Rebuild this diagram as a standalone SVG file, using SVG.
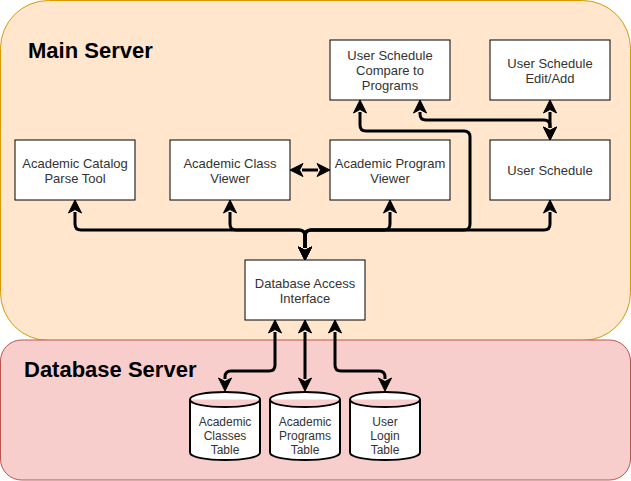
<svg xmlns="http://www.w3.org/2000/svg" width="631" height="481" viewBox="0 0 631 481">
<style>
.box{fill:#ffffff;stroke:#000000;stroke-width:1}
.cyl{fill:#ffffff;stroke:#000000;stroke-width:2}
.lbl{font-family:"Liberation Sans",Arial,Helvetica,sans-serif;font-size:13px;fill:#333333;text-anchor:middle}
.clbl{font-family:"Liberation Sans",Arial,Helvetica,sans-serif;font-size:12px;fill:#333333;text-anchor:middle}
.title{font-family:"Liberation Sans",Arial,Helvetica,sans-serif;font-size:22px;font-weight:bold;fill:#000000}
.edge{fill:none;stroke:#000000;stroke-width:3;marker-start:url(#arr);marker-end:url(#arr)}
</style>
<defs>
<marker id="arr" markerUnits="userSpaceOnUse" markerWidth="30" markerHeight="30" refX="0" refY="0" orient="auto-start-reverse" overflow="visible">
<path d="M12,0 L-1,-6.5 L2.5,0 L-1,6.5 Z" fill="#000000" stroke="#000000" stroke-width="1"/>
</marker>
</defs>
<g id="main-server">
<rect x="0.5" y="0.5" width="630" height="340" rx="48" ry="48" fill="#ffe6cc" stroke="#d79b00" stroke-width="1"/>
<text class="title" x="28" y="58">Main Server</text>
</g>
<g id="database-server">
<rect x="0.5" y="340" width="630" height="140" rx="21" ry="21" fill="#f8cecc" stroke="#b85450" stroke-width="1"/>
<text class="title" x="24" y="377">Database Server</text>
</g>
<g id="connectors">
<path class="edge" d="M305,248 L305,236 Q305,230 299,230 L81,230 Q75,230 75,224 L75,212"/>
<path class="edge" d="M305,248 L305,236 Q305,230 299,230 L236,230 Q230,230 230,224 L230,212"/>
<path class="edge" d="M305,248 L305,236 Q305,230 311,230 L384,230 Q390,230 390,224 L390,212"/>
<path class="edge" d="M305,248 L305,236 Q305,230 311,230 L544,230 Q550,230 550,224 L550,212"/>
<path class="edge" d="M305,248 L305,236 Q305,230 311,230 L464,230 Q470,230 470,224 L470,137 Q470,131 464,131 L366,131 Q360,131 360,125 L360,112"/>
<path class="edge" d="M550,112 L550,128"/>
<path class="edge" d="M550,128 L550,126 Q550,120 544,120 L426,120 Q420,120 420,114 L420,112"/>
<path class="edge" d="M302,170 L318,170"/>
<path class="edge" d="M275,332 L275,365 Q275,371 269,371 L231,371 Q225,371 225,377 L225,379"/>
<path class="edge" d="M305,332 L305,379"/>
<path class="edge" d="M335,332 L335,365 Q335,371 341,371 L379,371 Q385,371 385,377 L385,379"/>
</g>
<g id="parse-tool">
<rect class="box" x="15" y="140" width="120" height="60"/>
<text class="lbl" x="75" y="167.5">Academic Catalog</text>
<text class="lbl" x="75" y="182.5">Parse Tool</text>
</g>
<g id="class-viewer">
<rect class="box" x="170" y="140" width="120" height="60"/>
<text class="lbl" x="230" y="167.5">Academic Class</text>
<text class="lbl" x="230" y="182.5">Viewer</text>
</g>
<g id="program-viewer">
<rect class="box" x="330" y="140" width="120" height="60"/>
<text class="lbl" x="390" y="167.5">Academic Program</text>
<text class="lbl" x="390" y="182.5">Viewer</text>
</g>
<g id="user-schedule">
<rect class="box" x="490" y="140" width="120" height="60"/>
<text class="lbl" x="550" y="175">User Schedule</text>
</g>
<g id="compare">
<rect class="box" x="330" y="40" width="120" height="60"/>
<text class="lbl" x="390" y="60">User Schedule</text>
<text class="lbl" x="390" y="75">Compare to</text>
<text class="lbl" x="390" y="90">Programs</text>
</g>
<g id="edit-add">
<rect class="box" x="490" y="40" width="120" height="60"/>
<text class="lbl" x="550" y="67.5">User Schedule</text>
<text class="lbl" x="550" y="82.5">Edit/Add</text>
</g>
<g id="db-access">
<rect class="box" x="245" y="260" width="120" height="60"/>
<text class="lbl" x="305" y="287.5">Database Access</text>
<text class="lbl" x="305" y="302.5">Interface</text>
</g>
<g id="classes-table">
<path class="cyl" d="M190,399.5 C190,389.5 260,389.5 260,399.5 L260,452.5 C260,462.5 190,462.5 190,452.5 Z M190,399.5 C190,409.5 260,409.5 260,399.5"/>
<text class="clbl" x="225" y="426">Academic</text>
<text class="clbl" x="225" y="440">Classes</text>
<text class="clbl" x="225" y="454">Table</text>
</g>
<g id="programs-table">
<path class="cyl" d="M270,399.5 C270,389.5 340,389.5 340,399.5 L340,452.5 C340,462.5 270,462.5 270,452.5 Z M270,399.5 C270,409.5 340,409.5 340,399.5"/>
<text class="clbl" x="305" y="426">Academic</text>
<text class="clbl" x="305" y="440">Programs</text>
<text class="clbl" x="305" y="454">Table</text>
</g>
<g id="login-table">
<path class="cyl" d="M350,399.5 C350,389.5 420,389.5 420,399.5 L420,452.5 C420,462.5 350,462.5 350,452.5 Z M350,399.5 C350,409.5 420,409.5 420,399.5"/>
<text class="clbl" x="385" y="426">User</text>
<text class="clbl" x="385" y="440">Login</text>
<text class="clbl" x="385" y="454">Table</text>
</g>
</svg>
